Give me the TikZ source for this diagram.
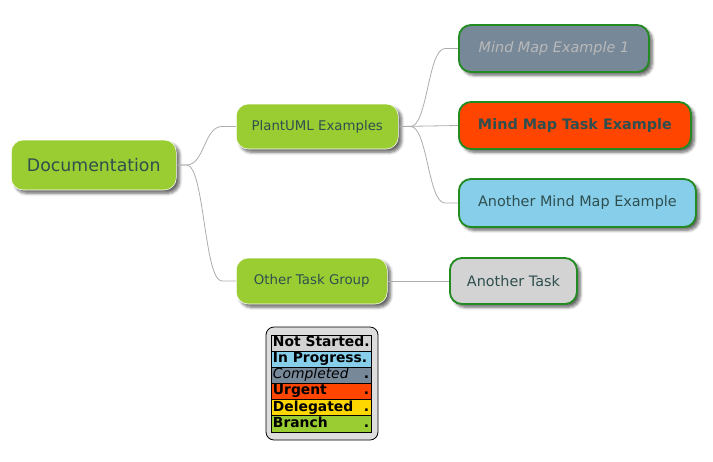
\documentclass[tikz,border=0pt]{standalone}
\usepackage{fontspec}
\setmainfont{DejaVu Sans}
\usepackage{tikz}
\usetikzlibrary{calc}
\usetikzlibrary{shadows.blur}
\definecolor{branchcol}{HTML}{9ACD32}
\definecolor{framecol}{HTML}{228B22}
\definecolor{donecol}{HTML}{778899}
\definecolor{urgentcol}{HTML}{FF4500}
\definecolor{progresscol}{HTML}{87CEEB}
\definecolor{waitcol}{HTML}{D3D3D3}
\definecolor{delegcol}{HTML}{FFD700}
\definecolor{inkcol}{HTML}{2F4F4F}
\definecolor{legendbg}{HTML}{DDDDDD}

\begin{document}
\begin{tikzpicture}[
x=0.75pt,y=-0.75pt,
MyShadow/.style={blur shadow={shadow xshift=2.5pt,shadow yshift=-2.5pt,shadow blur steps=6,shadow opacity=60}},
RootNode/.style={MyShadow,draw=white,fill=branchcol,rounded corners=9pt,anchor=west,text=inkcol,font=\fontsize{13}{15}\selectfont},
BranchNode/.style={MyShadow,draw=white,fill=branchcol,rounded corners=9pt,anchor=west,text=inkcol,font=\fontsize{10}{12}\selectfont},
TaskNode/.style={MyShadow,draw=framecol,line width=1.4pt,rounded corners=9pt,anchor=west,text=inkcol,font=\fontsize{10.8}{13}\selectfont},
Links/.style={draw=gray!65,line width=0.6pt},
RowText/.style={anchor=west,inner sep=0.5pt,text height=7.4pt,text depth=2.4pt,text=black,font=\fontsize{10.4}{12}\selectfont\bfseries}
]
\useasboundingbox (0,0) rectangle (713,461);

% nodes of the map
\node[RootNode,minimum width=123.75pt,minimum height=37.5pt] (doc) at (11,165) {Documentation};

\node[BranchNode,minimum width=121.5pt,minimum height=33.75pt] (plant) at (236,126.5) {PlantUML Examples};
\node[BranchNode,minimum width=113.25pt,minimum height=34.5pt] (other) at (236,281) {Other Task Group};

\node[TaskNode,fill=donecol,text=gray!55,font=\fontsize{10.8}{13}\selectfont\itshape,minimum width=142.5pt,minimum height=35.25pt] (done) at (458,48.5) {Mind Map Example 1};
\node[TaskNode,fill=urgentcol,font=\fontsize{10.8}{13}\selectfont\bfseries,minimum width=174pt,minimum height=35.25pt] (urgent) at (458,125.5) {Mind Map Task Example};
\node[TaskNode,fill=progresscol,minimum width=177.75pt,minimum height=36pt] (progress) at (458,203) {Another Mind Map Example};
\node[TaskNode,fill=waitcol,minimum width=95.25pt,minimum height=34.5pt] (another) at (449,281) {Another Task};

% links
\draw[Links] (doc.east) -- ++(10,0) .. controls +(18,0) and +(-18,0) .. ($(plant.west)+(-14,0)$) -- (plant.west);
\draw[Links] (doc.east) -- ++(10,0) .. controls +(18,0) and +(-18,0) .. ($(other.west)+(-14,0)$) -- (other.west);

\draw[Links] (plant.east) -- ++(12,0) .. controls +(17,0) and +(-17,0) .. ($(done.west)+(-13,0)$) -- (done.west);
\draw[Links] (plant.east) -- (urgent.west);
\draw[Links] (plant.east) -- ++(12,0) .. controls +(17,0) and +(-17,0) .. ($(progress.west)+(-13,0)$) -- (progress.west);

\draw[Links] (other.east) -- (another.west);

% legend
\draw[fill=legendbg,rounded corners=6pt,line width=0.6pt] (266,327) rectangle (378,440);
\foreach \col/\txt [count=\i from 0] in {waitcol/Not Started.,progresscol/In Progress.,donecol/Completed,urgentcol/Urgent,delegcol/Delegated,branchcol/Branch}
{
\fill[\col] (271.5,335+16.17*\i) rectangle (371,335+16.17*\i+16.17);
\draw[line width=0.6pt] (271.5,335+16.17*\i) -- (371,335+16.17*\i);
}
\draw[line width=0.6pt] (271.5,335) rectangle (371,432);

\node[RowText] (row0) at (272,343.1) {Not Started.};
\node[RowText] (row1) at (272,359.2) {In Progress.};
\node[RowText,font=\fontsize{10.4}{12}\selectfont\itshape] (row2) at (272,375.4) {Completed};
\node[RowText] (row3) at (272,391.6) {Urgent};
\node[RowText] (row4) at (272,407.8) {Delegated};
\node[RowText] (row5) at (272,423.9) {Branch};

\node[RowText,anchor=east] (dot2) at (370,375.4) {.};
\node[RowText,anchor=east] (dot3) at (370,391.6) {.};
\node[RowText,anchor=east] (dot4) at (370,407.8) {.};
\node[RowText,anchor=east] (dot5) at (370,423.9) {.};

\end{tikzpicture}
\end{document}
